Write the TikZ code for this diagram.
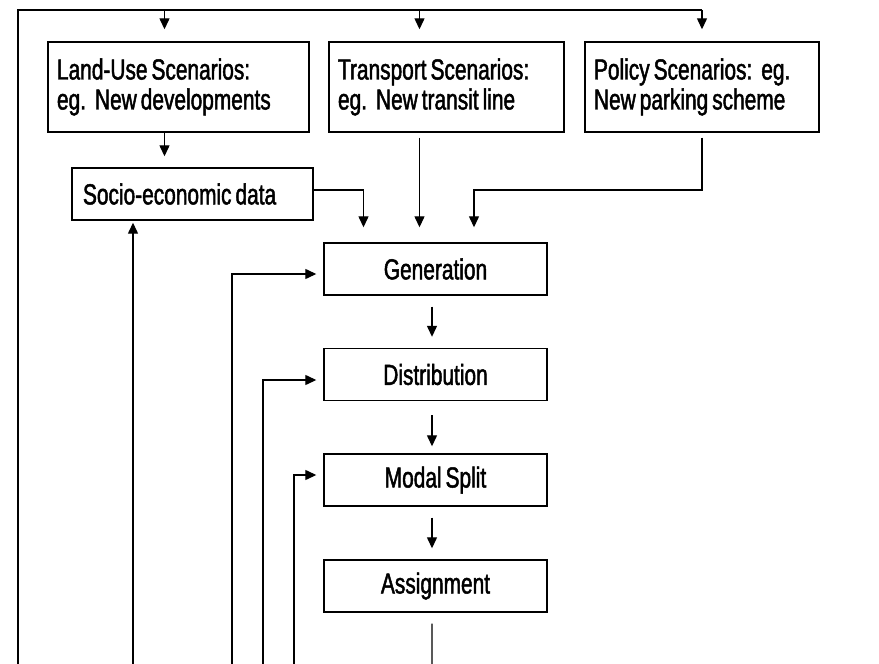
\documentclass[tikz,border=0pt]{standalone}
\usepackage{fontspec}
\setmainfont[FakeStretch=0.72,FakeBold=1.6]{Liberation Sans}
\usetikzlibrary{arrows.meta,calc}
\begin{document}
\begin{tikzpicture}[x=1bp,y=1bp,
  box/.style={draw,line width=1.4bp,inner sep=0pt,font=\fontsize{29bp}{30bp}\selectfont,
    execute at begin node={\spaceskip=4bp\xspaceskip=9bp\relax}},
  topbox/.style={box,inner xsep=9bp,align=left,minimum height=90bp},
  stage/.style={box,minimum width=223bp,minimum height=52bp,align=center},
  conn/.style={line width=1.3bp},
  arr/.style={conn,-{Triangle[length=11bp,width=10bp]}}]
\useasboundingbox (0,0) rectangle (879,-664);
% boxes
\node[topbox,text width=243bp] (lu) at (178.5,-87) {\mbox{Land-Use Scenarios:}\\\mbox{eg. New developments}};
\node[topbox,text width=217bp] (tp) at (446.5,-87) {\mbox{Transport Scenarios:}\\\mbox{eg. New transit line}};
\node[topbox,text width=216bp] (po) at (702,-87) {\mbox{Policy Scenarios: eg.}\\\mbox{New parking scheme}};
\node[box,inner xsep=11bp,text width=219bp,align=left,minimum height=52bp] (so) at (192.5,-194) {\mbox{Socio-economic data}};
\node[stage] (gen) at (435.5,-269) {Generation};
\node[stage] (dis) at (435.5,-374.5) {Distribution};
\node[stage] (mod) at (435.5,-480) {Modal Split};
\node[stage] (asg) at (435.5,-586) {Assignment};
% coordinates
\coordinate (tl) at (18,-10);
\coordinate (bl) at (18,-664);
\coordinate (jy) at (0,-190);
\coordinate (luc) at ([xshift=-14bp]lu.north);
\coordinate (luo) at ([xshift=-14bp]lu.south);
\coordinate (tpc) at ([xshift=-27bp]tp.north);
\coordinate (tpo) at ([xshift=-27bp]tp.south);
\coordinate (g1) at ([xshift=-72bp]gen.north);
\coordinate (g3) at ([xshift=38.5bp]gen.north);
\coordinate (ao) at ([xshift=-3.5bp]asg.south);
\coordinate (ab) at (432,-664);
\coordinate (f1) at (232,-664);
\coordinate (f2) at (263,-664);
\coordinate (f3) at (294,-664);
\coordinate (up) at (133,-664);
% top frame
\draw[conn] (bl) -- (tl) -- (tl -| po.north);
\draw[arr,shorten >=12bp] (tl -| po.north) -- (po.north);
\draw[arr,shorten >=12bp] (tl -| luc) -- (luc);
\draw[arr,shorten >=12bp] (tl -| tpc) -- (tpc);
% to socio and generation
\draw[arr,shorten >=11bp] (luo) -- (luo |- so.north);
\draw[arr,shorten >=15bp] (so.east |- jy) -| (g1);
\draw[arr,shorten <=5bp,shorten >=15bp] (tpo) -- (tpo |- gen.north);
\draw[arr,shorten <=5bp,shorten >=15bp] (po.south) -- (po.south |- jy) -| (g3);
% chain
\draw[arr,shorten <=11bp,shorten >=11bp] ([xshift=-3.5bp]gen.south) -- ([xshift=-3.5bp]dis.north);
\draw[arr,shorten <=14bp,shorten >=7bp] ([xshift=-3.5bp]dis.south) -- ([xshift=-3.5bp]mod.north);
\draw[arr,shorten <=11bp,shorten >=11bp] ([xshift=-3.5bp]mod.south) -- ([xshift=-3.5bp]asg.north);
\draw[conn,shorten <=11bp] (ao) -- (ab);
% feedback
\draw[arr,shorten >=7bp] (f1) |- ([yshift=-5bp]gen.west);
\draw[arr,shorten >=7bp] (f2) |- ([yshift=-5.5bp]dis.west);
\draw[arr,shorten >=7bp] (f3) |- ([yshift=5bp]mod.west);
\draw[arr,shorten >=2bp] (up) -- (up |- so.south);
\end{tikzpicture}
\end{document}
